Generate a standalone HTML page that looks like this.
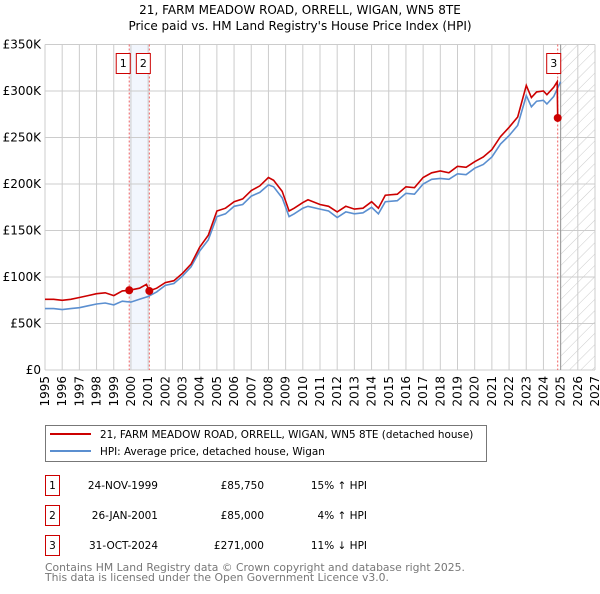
<!DOCTYPE html>
<html><head><meta charset="utf-8"><style>
body{margin:0;background:#fff;font-family:"DejaVu Sans","Liberation Sans",sans-serif;}
svg text{font-family:"DejaVu Sans","Liberation Sans",sans-serif;}
</style></head><body>
<svg id="c" width="600" height="590" xmlns="http://www.w3.org/2000/svg">
<defs><pattern id="hatch" width="8" height="8" patternUnits="userSpaceOnUse" patternTransform="rotate(45)"><line x1="0" y1="0" x2="0" y2="8" stroke="#ccc" stroke-width="1"/></pattern></defs>
<text x="300" y="14" text-anchor="middle" font-size="12">21, FARM MEADOW ROAD, ORRELL, WIGAN, WN5 8TE</text>
<text x="300" y="30" text-anchor="middle" font-size="12">Price paid vs. HM Land Registry's House Price Index (HPI)</text>
<g id="grid"></g><g id="marks"></g><g id="axes"></g>
<g>
<rect x="45.5" y="425.5" width="441" height="36" fill="#fff" stroke="#777"/>
<line x1="50" y1="434" x2="91" y2="434" stroke="#cc0000" stroke-width="2"/>
<text x="100" y="438" font-size="10.4">21, FARM MEADOW ROAD, ORRELL, WIGAN, WN5 8TE (detached house)</text>
<line x1="50" y1="451" x2="91" y2="451" stroke="#5b8fd0" stroke-width="2"/>
<text x="100" y="455" font-size="10.4">HPI: Average price, detached house, Wigan</text>
</g>
<g font-size="10.5">
<rect x="45.5" y="475.5" width="14" height="20" fill="none" stroke="#cc0000"/><text x="52.5" y="489" text-anchor="middle">1</text>
<text x="158" y="489" text-anchor="end">24-NOV-1999</text><text x="264" y="489" text-anchor="end">£85,750</text><text x="367" y="489" text-anchor="end">15% ↑ HPI</text>
<rect x="45.5" y="505.5" width="14" height="20" fill="none" stroke="#cc0000"/><text x="52.5" y="519" text-anchor="middle">2</text>
<text x="158" y="519" text-anchor="end">26-JAN-2001</text><text x="264" y="519" text-anchor="end">£85,000</text><text x="367" y="519" text-anchor="end">4% ↑ HPI</text>
<rect x="45.5" y="535.5" width="14" height="20" fill="none" stroke="#cc0000"/><text x="52.5" y="549" text-anchor="middle">3</text>
<text x="158" y="549" text-anchor="end">31-OCT-2024</text><text x="264" y="549" text-anchor="end">£271,000</text><text x="367" y="549" text-anchor="end">11% ↓ HPI</text>
</g>
<text x="45" y="571" font-size="10.8" fill="#777">Contains HM Land Registry data © Crown copyright and database right 2025.</text>
<text x="45" y="581" font-size="10.8" fill="#777">This data is licensed under the Open Government Licence v3.0.</text>
</svg>
<script>
const hpiYears=[1995,1995.5,1996,1996.5,1997,1997.5,1998,1998.5,1999,1999.5,2000,2000.5,2001,2001.5,2002,2002.5,2003,2003.5,2004,2004.5,2005,2005.5,2006,2006.5,2007,2007.5,2008,2008.3,2008.8,2009.2,2009.5,2010,2010.3,2011,2011.5,2012,2012.5,2013,2013.5,2014,2014.4,2014.8,2015.5,2016,2016.5,2017,2017.5,2018,2018.5,2019,2019.5,2020,2020.5,2021,2021.5,2022,2022.5,2023,2023.3,2023.6,2024,2024.2,2024.6,2025];
const hpiValues=[66,66,65,66,67,69,71,72,70,74,73,76,79,84,91,93,101,111,128,140,165,168,176,178,187,191,199,197,185,165,168,174,176,173,171,164,170,168,169,175,168,181,182,190,189,200,205,206,205,211,210,217,221,229,243,252,263,295,283,289,290,286,294,310];
const ppYears=[1995,1995.5,1996,1996.5,1997,1997.5,1998,1998.5,1999,1999.5,1999.9,2000.5,2000.9,2001.07,2001.5,2002,2002.5,2003,2003.5,2004,2004.5,2005,2005.5,2006,2006.5,2007,2007.5,2008,2008.3,2008.8,2009.2,2009.5,2010,2010.3,2011,2011.5,2012,2012.5,2013,2013.5,2014,2014.4,2014.8,2015.5,2016,2016.5,2017,2017.5,2018,2018.5,2019,2019.5,2020,2020.5,2021,2021.5,2022,2022.5,2023,2023.3,2023.6,2024,2024.2,2024.6,2024.8,2024.83,2025];
const ppValues=[76,76,75,76,78,80,82,83,80,85,85.75,88,92,85,88,94,96,104,114,132,145,171,174,181,184,193,198,207,204,192,171,174,180,183,178,176,170,176,173,174,181,174,188,189,197,196,207,212,214,212,219,218,224,229,237,251,261,272,306,293,299,300,296,304,310,271,270];
const sales=[{n:'1',t:1999.9,v:85.75},{n:'2',t:2001.07,v:85},{n:'3',t:2024.83,v:271}];
const yTicks=[0,50,100,150,200,250,300,350];
const yTickLabels=['£0','£50K','£100K','£150K','£200K','£250K','£300K','£350K'];
const xTicks=[1995,1996,1997,1998,1999,2000,2001,2002,2003,2004,2005,2006,2007,2008,2009,2010,2011,2012,2013,2014,2015,2016,2017,2018,2019,2020,2021,2022,2023,2024,2025,2026,2027];
const X0=45,X1=595,Y0=370,Y1=44.5,T0=1995,T1=2027,V1=350;
const sx=t=>X0+(t-T0)*(X1-X0)/(T1-T0);
const sy=v=>Y0-v*(Y0-Y1)/V1;
const NS='http://www.w3.org/2000/svg';
function mk(p,tag,a){const e=document.createElementNS(NS,tag);for(const k in a)e.setAttribute(k,a[k]);p.appendChild(e);return e;}
const grid=document.getElementById('grid'),marks=document.getElementById('marks'),axes=document.getElementById('axes');
const band=mk(grid,'rect',{x:sx(sales[0].t),y:Y1,width:sx(sales[1].t)-sx(sales[0].t),height:Y0-Y1,fill:'#f2f6fd'});


const fut=mk(grid,'rect',{x:sx(2025),y:Y1,width:X1-sx(2025),height:Y0-Y1,fill:'url(#hatch)'});


xTicks.forEach(t=>{const l=mk(grid,'line',{x1:sx(t),x2:sx(t),y1:Y1,y2:Y0,stroke:'#ccc','stroke-width':1});


const tx=mk(axes,'text',{x:0,y:0,'font-size':12,'text-anchor':'end',transform:`translate(${sx(t)+4},${Y0+6}) rotate(-90)`});tx.textContent=t;

});
yTicks.forEach((v,i)=>{const l=mk(grid,'line',{x1:X0,x2:X1,y1:sy(v),y2:sy(v),stroke:'#ccc','stroke-width':1});


const tx=mk(axes,'text',{x:X0-4,y:sy(v)+4,'font-size':12,'text-anchor':'end'});tx.textContent=yTickLabels[i];

});
const nowLine=mk(grid,'line',{x1:sx(2025),x2:sx(2025),y1:Y1,y2:Y0,stroke:'#999','stroke-width':1});


sales.forEach(s=>{const l=mk(grid,'line',{x1:sx(s.t),x2:sx(s.t),y1:Y1,y2:Y0,stroke:'#f06060','stroke-width':1,'stroke-dasharray':'2,2'});

});
const hp=mk(marks,'path',{d:hpiYears.map((t,i)=>(i?'L':'M')+sx(t).toFixed(1)+','+sy(hpiValues[i]).toFixed(1)).join(''),fill:'none',stroke:'#5b8fd0','stroke-width':1.6});


const pp=mk(marks,'path',{d:ppYears.map((t,i)=>(i?'L':'M')+sx(t).toFixed(1)+','+sy(ppValues[i]).toFixed(1)).join(''),fill:'none',stroke:'#cc0000','stroke-width':1.6});


sales.forEach(s=>{const d=mk(marks,'circle',{cx:sx(s.t),cy:sy(s.v),r:4,fill:'#cc0000'});


const bx=s.n==='3'?sx(s.t)-4:sx(s.t)-6;
const r=mk(marks,'rect',{x:bx-7,y:53.5,width:14,height:20,fill:'#fff',stroke:'#cc0000'});


const tx=mk(marks,'text',{x:bx,y:67,'font-size':11,'text-anchor':'middle'});tx.textContent=s.n;

});
</script>
</body></html>
